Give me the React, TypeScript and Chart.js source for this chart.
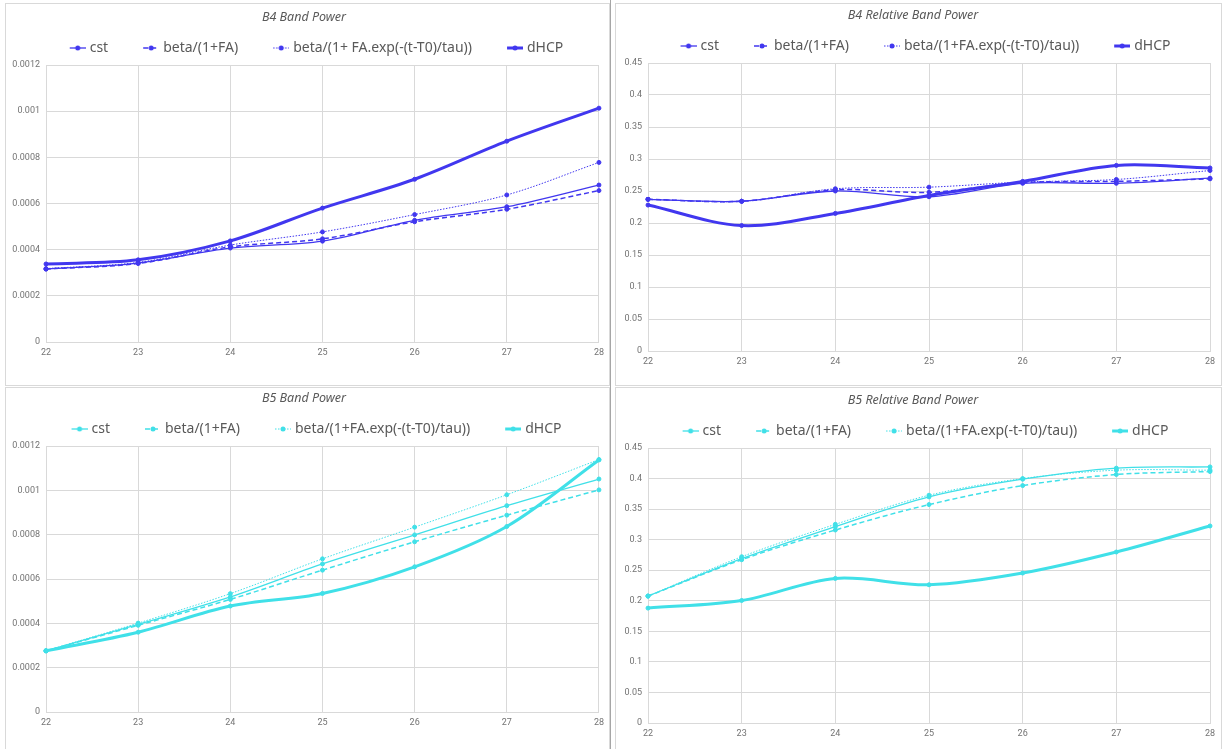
import React, { useEffect, useRef } from 'react';
import { Chart, registerables } from 'chart.js';

Chart.register(...registerables);

// ---------- data ----------
const xLabels = ['22', '23', '24', '25', '26', '27', '28'];

const namesB4Power = ['cst', 'beta/(1+FA)', 'beta/(1+ FA.exp(-(t-T0)/tau))', 'dHCP'];
const namesB4Rel = ['cst', 'beta/(1+FA)', 'beta/(1+FA.exp(-(t-T0)/tau))', 'dHCP'];
const namesB5Power = ['cst', 'beta/(1+FA)', 'beta/(1+FA.exp(-(t-T0)/tau))', 'dHCP'];
const namesB5Rel = ['cst', 'beta/(1+FA)', 'beta/(1+FA.exp(-t-T0)/tau))', 'dHCP'];

const b4PowerCst = [0.000316, 0.000342, 0.000407, 0.000437, 0.000527, 0.000586, 0.00068];
const b4PowerFA = [0.000316, 0.00034, 0.000412, 0.000447, 0.000521, 0.000575, 0.000656];
const b4PowerFAexp = [0.000318, 0.000345, 0.00042, 0.000477, 0.000552, 0.000637, 0.000778];
const b4PowerDHCP = [0.000338, 0.000356, 0.000438, 0.00058, 0.000705, 0.00087, 0.001013];

const b4RelCst = [0.237, 0.234, 0.25, 0.241, 0.262, 0.262, 0.27];
const b4RelFA = [0.237, 0.234, 0.252, 0.248, 0.263, 0.265, 0.269];
const b4RelFAexp = [0.237, 0.234, 0.2535, 0.256, 0.264, 0.268, 0.282];
const b4RelDHCP = [0.228, 0.196, 0.215, 0.243, 0.265, 0.29, 0.286];

const b5PowerCst = [0.000276, 0.000395, 0.000519, 0.000668, 0.000799, 0.000931, 0.001051];
const b5PowerFA = [0.000276, 0.000391, 0.000508, 0.00064, 0.000768, 0.000888, 0.001002];
const b5PowerFAexp = [0.000276, 0.000401, 0.000534, 0.000691, 0.000834, 0.00098, 0.001139];
const b5PowerDHCP = [0.000276, 0.00036, 0.000478, 0.000535, 0.000655, 0.000837, 0.001137];

const b5RelCst = [0.2077, 0.2689, 0.3213, 0.37, 0.3989, 0.417, 0.4191];
const b5RelFA = [0.2077, 0.2672, 0.3158, 0.3574, 0.3885, 0.4066, 0.4115];
const b5RelFAexp = [0.2077, 0.2721, 0.3251, 0.3727, 0.4, 0.4137, 0.4137];
const b5RelDHCP = [0.188, 0.2005, 0.2366, 0.2262, 0.2454, 0.2798, 0.3224];

const blue = '#4137ef';
const cyan = '#40e0e8';

// ---------- styles ----------
const lineStyles = [
  { w: 1.3, dash: [] as number[] },
  { w: 1.5, dash: [5, 3] },
  { w: 1, dash: [1.5, 1.5] },
  { w: 3, dash: [] as number[] },
];

const MARK_IMG_W = 44;
const MARK_LEN = 16;
const LEGEND_FONT = 14;

function makeMarker(color: string, idx: number): HTMLCanvasElement {
  const c = document.createElement('canvas');
  c.width = MARK_IMG_W;
  c.height = 10;
  const ctx = c.getContext('2d')!;
  const st = lineStyles[idx];
  ctx.strokeStyle = color;
  ctx.lineWidth = st.w;
  ctx.setLineDash(st.dash);
  ctx.beginPath();
  ctx.moveTo(MARK_IMG_W - MARK_LEN, 5);
  ctx.lineTo(MARK_IMG_W, 5);
  ctx.stroke();
  ctx.setLineDash([]);
  ctx.fillStyle = color;
  ctx.beginPath();
  ctx.arc(MARK_IMG_W - MARK_LEN / 2, 5, 2.5, 0, Math.PI * 2);
  ctx.fill();
  return c;
}

type PanelProps = {
  left: number;
  top: number;
  width: number;
  height: number;
  title: string;
  names: string[];
  series: number[][];
  color: string;
  yMax: number;
  yStep: number;
  yW: number;
  plotTop: number;
  padRight: number;
  padBottom: number;
};

const X_AXIS_H = 20;

function Panel(p: PanelProps) {
  const ref = useRef<HTMLCanvasElement>(null);
  useEffect(() => {
    if (!ref.current) return;
    const markers = [0, 1, 2, 3].map((i) => makeMarker(p.color, i));
    const chart = new Chart(ref.current, {
      type: 'line',
      data: {
        labels: xLabels,
        datasets: p.series.map((d, i) => ({
          label: p.names[i],
          data: d,
          borderColor: p.color,
          backgroundColor: p.color,
          borderWidth: lineStyles[i].w,
          borderDash: lineStyles[i].dash,
          pointRadius: 2,
          pointBorderWidth: 1,
          pointBackgroundColor: p.color,
          pointBorderColor: p.color,
          pointHoverRadius: 2,
          tension: 0.33,
          fill: false,
          order: 4 - i,
        })),
      },
      options: {
        responsive: false,
        animation: false,
        devicePixelRatio: 1,
        events: [],
        layout: { padding: { left: 0, right: p.padRight, top: 0, bottom: p.padBottom } },
        plugins: {
          tooltip: { enabled: false },
          title: {
            display: true,
            text: p.title,
            color: '#595959',
            font: { family: "'Noto Sans', sans-serif", size: 12.5, style: 'italic', weight: 'normal' },
            padding: { top: 3, bottom: 6 },
          },
          legend: {
            display: true,
            position: 'top',
            labels: {
              usePointStyle: true,
              pointStyleWidth: MARK_IMG_W - 6,
              padding: 10,
              color: '#595959',
              font: { family: "'Noto Sans', sans-serif", size: LEGEND_FONT },
              generateLabels: (chart: any) => {
                const items = (Chart.defaults as any).plugins.legend.labels.generateLabels(chart);
                items.sort((a: any, b: any) => a.datasetIndex - b.datasetIndex);
                return items.map((it: any) => ({ ...it, pointStyle: markers[it.datasetIndex] }));
              },
            },
          },
        },
        scales: {
          x: {
            type: 'category',
            offset: false,
            grid: { color: '#d9d9d9', drawTicks: false },
            border: { color: '#d9d9d9' },
            ticks: {
              font: { family: 'Roboto, sans-serif', size: 9 },
              color: '#737373',
              padding: 5,
              maxRotation: 0,
              autoSkip: false,
            },
            afterFit: (s: any) => {
              s.height = X_AXIS_H;
            },
          },
          y: {
            min: 0,
            max: p.yMax,
            grid: { color: '#d9d9d9', drawTicks: false },
            border: { display: false },
            ticks: {
              stepSize: p.yStep,
              font: { family: 'Roboto, sans-serif', size: 9 },
              color: '#737373',
              padding: 6,
              callback: (v: any) => String(Number(Number(v).toPrecision(6))),
            },
            afterFit: (s: any) => {
              s.width = p.yW;
              s.paddingTop = p.plotTop;
            },
          },
        },
      } as any,
    });
    return () => chart.destroy();
  }, []);
  return (
    <div
      style={{
        position: 'absolute',
        left: p.left,
        top: p.top,
        width: p.width,
        height: p.height,
        boxSizing: 'border-box',
        border: '1px solid #d9d9d9',
        background: '#fff',
      }}
    >
      <canvas ref={ref} width={p.width - 2} height={p.height - 2} style={{ display: 'block' }} />
    </div>
  );
}

export default function App() {
  return (
    <div
      style={{
        position: 'absolute',
        left: 0,
        top: 0,
        width: 1224,
        height: 749,
        overflow: 'hidden',
        background: '#fff',
      }}
    >
      <Panel
        left={5}
        top={3}
        width={605}
        height={383}
        title="B4 Band Power"
        names={namesB4Power}
        series={[b4PowerCst, b4PowerFA, b4PowerFAexp, b4PowerDHCP]}
        color={blue}
        yMax={0.0012}
        yStep={0.0002}
        yW={40}
        plotTop={61}
        padRight={7}
        padBottom={43 - X_AXIS_H}
      />
      <Panel
        left={615}
        top={3}
        width={607}
        height={383}
        title="B4 Relative Band Power"
        names={namesB4Rel}
        series={[b4RelCst, b4RelFA, b4RelFAexp, b4RelDHCP]}
        color={blue}
        yMax={0.45}
        yStep={0.05}
        yW={32}
        plotTop={59}
        padRight={11}
        padBottom={34 - X_AXIS_H}
      />
      <Panel
        left={5}
        top={387}
        width={605}
        height={380}
        title="B5 Band Power"
        names={namesB5Power}
        series={[b5PowerCst, b5PowerFA, b5PowerFAexp, b5PowerDHCP]}
        color={cyan}
        yMax={0.0012}
        yStep={0.0002}
        yW={40}
        plotTop={58}
        padRight={7}
        padBottom={54 - X_AXIS_H}
      />
      <Panel
        left={615}
        top={387}
        width={607}
        height={380}
        title="B5 Relative Band Power"
        names={namesB5Rel}
        series={[b5RelCst, b5RelFA, b5RelFAexp, b5RelDHCP]}
        color={cyan}
        yMax={0.45}
        yStep={0.05}
        yW={32}
        plotTop={60}
        padRight={11}
        padBottom={43 - X_AXIS_H}
      />
      <div style={{ position: 'absolute', left: 610, top: 0, width: 1, height: 749, background: '#a6a6a6' }} />
    </div>
  );
}
